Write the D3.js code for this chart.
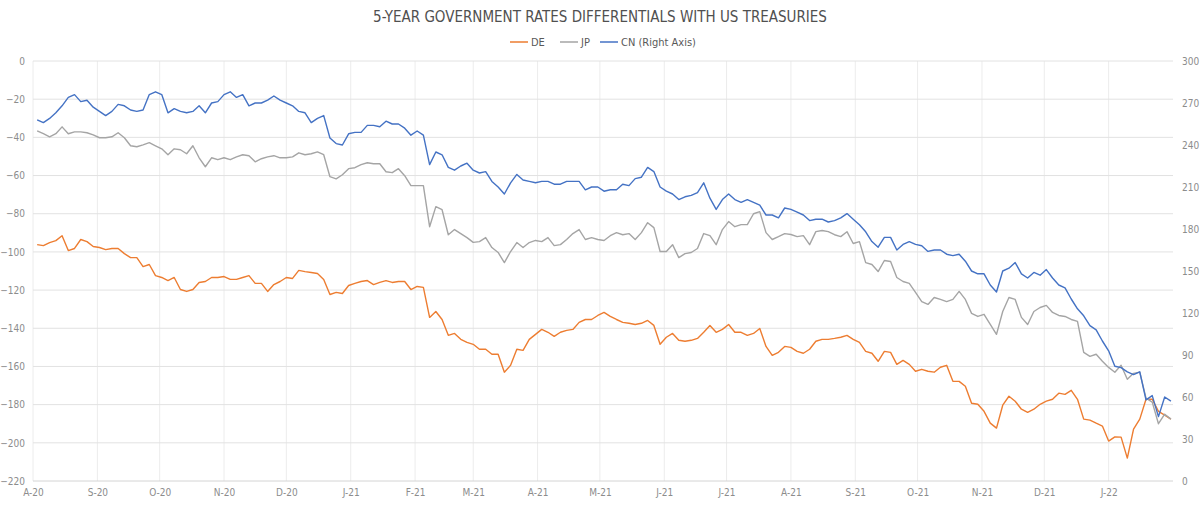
<!DOCTYPE html>
<html lang="en">
<head>
  <meta charset="UTF-8">
  <title>5-Year Government Rates Differentials</title>
  <script src="https://d3js.org/d3.v7.min.js"></script>
  <style>
    body { margin: 0; background: #fff; }
    .chart text { font-family: "DejaVu Sans Condensed", "Liberation Sans Narrow", Roboto, sans-serif; }
    .tick text { fill: #8c8c8c; font-size: 10px; }
  </style>
</head>
<body>
<svg id="chart" class="chart" width="1200" height="505"></svg>
<script>
  // sampled every 3 days from Aug 3, 2020 to Jan 31, 2022
  const dates = d3.timeDay.range(new Date(2020, 7, 3), new Date(2022, 1, 1), 3);

  // DE - US 5y (bp, left axis)
  const de = [
    -96.2, -96.7, -95.1, -94.1, -91.5, -99.3, -98.2, -93.5, -94.6, -97.2, -97.7, -98.8, -98.2, -98.2, -100.9, -103, -103, -107.7, -106.6, -112.4,
    -113.4, -115, -113.4, -119.7, -120.7, -119.7, -116, -115.5, -113.4, -113.4, -112.9, -114.4, -114.4, -113.4, -112.4, -116.5, -116.5, -120.7, -117.1, -115.5,
    -113.4, -113.9, -109.7, -110.3, -110.8, -111.3, -114.4, -122.3, -121.2, -121.8, -117.6, -116.5, -115.5, -115, -117.1, -116, -115, -116, -115.5, -115.5,
    -119.7, -118.1, -118.6, -134.3, -131.2, -135.4, -143.7, -142.7, -145.8, -147.4, -148.4, -151, -151, -153.6, -153.6, -163, -159.4, -151, -151.6, -145.8,
    -143.2, -140.6, -142.1, -144.2, -142.1, -141.1, -140.6, -136.9, -135.4, -135.4, -133.3, -131.7, -133.8, -135.4, -136.9, -137.4, -138, -137.4, -135.9, -138.5,
    -148.4, -144.7, -142.7, -146.3, -146.8, -146.3, -145.3, -142.1, -138.5, -142.1, -140.6, -138, -142.1, -142.1, -143.7, -142.7, -140.1, -149.5, -154.2, -152.6,
    -149.5, -150, -152.1, -153.1, -151, -146.8, -145.8, -145.8, -145.3, -144.7, -143.7, -145.8, -147.4, -152.1, -153.1, -157.3, -152.1, -152.6, -158.9, -156.8,
    -158.9, -162.5, -161.5, -162.5, -163, -160.4, -159.4, -167.8, -167.8, -170.4, -179.3, -179.8, -183.5, -189.7, -192.3, -180.3, -175.6, -178.2, -182.4, -184,
    -182.4, -179.8, -178.2, -177.2, -174, -174.6, -172.5, -177.2, -187.6, -188.1, -189.7, -191.2, -199.1, -196.9, -197, -208, -192.8, -187.6, -177.2, -177.2,
    -183.5, -185.5, -187.6
  ];

  // JP - US 5y (bp, left axis)
  const jp = [
    -36.6, -38.1, -39.7, -38.1, -34.5, -38.1, -37.1, -37.1, -37.6, -38.7, -40.2, -40.2, -39.7, -37.6, -40.2, -44.4, -44.9, -43.9, -42.8, -44.4,
    -46, -49.1, -46, -46.5, -48.6, -44.4, -50.7, -55.4, -50.7, -51.7, -50.7, -51.7, -50.2, -49.1, -49.6, -52.8, -51.2, -50.2, -49.6, -50.7,
    -50.7, -50.2, -48.1, -49.1, -48.6, -47.6, -49.1, -60.6, -61.7, -59.6, -56.4, -55.9, -54.3, -53.3, -53.8, -53.8, -58, -58.5, -56.4, -60.1,
    -65.3, -65.3, -65.3, -86.8, -76.3, -77.9, -91, -88.3, -90.4, -92.5, -95, -94.6, -92.5, -97.7, -100.3, -105.6, -99.8, -95.1, -97.7, -95.1,
    -94, -94.6, -92.5, -96.7, -96.2, -93.5, -90.4, -88.3, -93.5, -92.5, -93.5, -94, -91.5, -89.9, -91, -90.4, -93.5, -89.9, -84.7, -87.3,
    -99.8, -99.8, -96.2, -103, -100.9, -100.3, -98.2, -90.4, -91.5, -96.2, -88.3, -84.1, -86.8, -85.7, -85.7, -80, -78.9, -89.9, -93.5, -92,
    -90.4, -90.9, -92, -91.5, -96.2, -89.4, -88.8, -89.4, -91, -92, -89.4, -95.6, -94.6, -105.6, -106.6, -110.3, -104.5, -105, -113.4, -115.5,
    -116.5, -121.2, -126, -127.5, -123.9, -124.9, -126, -124.9, -120.7, -124.9, -132.2, -133.8, -132.7, -138, -143.2, -131.2, -123.9, -124.9, -134.3, -138,
    -131.2, -129.1, -128, -131.7, -133.3, -133.8, -135.4, -136.4, -152.6, -154.7, -153.6, -157.3, -160.5, -163, -159.4, -166.7, -163.6, -163, -176.6, -178.7,
    -190, -185, -187.6
  ];

  // CN - US 5y (bp, right axis)
  const cn = [
    258, 256, 259, 263, 268, 274, 276, 271, 272, 267, 264, 261, 264, 269, 268, 265, 264, 265, 276, 278,
    276, 263, 266, 264, 263, 264, 268, 263, 270, 271, 276, 278, 274, 276, 268, 270, 270, 272, 275, 272,
    270, 268, 264, 263, 256, 259, 261, 245, 241, 240, 248, 249, 249, 254, 254, 253, 257, 255, 255, 252,
    247, 250, 247, 226, 235, 233, 224, 222, 225, 227, 222, 220, 221, 214, 210, 205, 213, 219, 215, 214,
    213, 214, 214, 212, 212, 214, 214, 214, 208, 210, 210, 207, 208, 208, 212, 211, 216, 217, 224, 221,
    210, 207, 205, 201, 203, 204, 206, 213, 202, 194, 201, 205, 201, 199, 201, 199, 197, 190, 190, 188,
    195, 194, 192, 190, 186, 187, 187, 185, 186, 188, 191, 187, 183, 178, 171, 167, 174, 174, 165, 169,
    171, 169, 168, 164, 165, 165, 162, 161, 162, 157, 150, 148, 148, 140, 135, 150, 152, 156, 148, 145,
    149, 147, 151, 145, 140, 138, 130, 123, 118, 111, 108, 100, 93, 82, 81, 78, 76, 78, 58, 61,
    46, 60, 57
  ];

  const yLeftTicks = d3.range(-220, 1, 20);
  const yRightTicks = d3.range(0, 301, 30);
  const monthTicks = d3.timeMonth.range(new Date(2020, 7, 1), new Date(2022, 1, 1));

  const series = [
    { name: "DE", values: de, color: "#ED7D31", axis: "left" },
    { name: "JP", values: jp, color: "#A5A5A5", axis: "left" },
    { name: "CN (Right Axis)", values: cn, color: "#4472C4", axis: "right" }
  ];

  const margin = { top: 61, right: 27, bottom: 24, left: 33 };
  const width = 1200, height = 505;

  const x = d3.scaleTime()
    .domain([new Date(2020, 7, 1), new Date(2022, 1, 1)])
    .range([margin.left, width - margin.right]);
  const yLeft = d3.scaleLinear().domain([-220, 0]).range([height - margin.bottom, margin.top]);
  const yRight = d3.scaleLinear().domain([0, 300]).range([height - margin.bottom, margin.top]);

  const svg = d3.select("#chart");

  // vertical grid
  svg.append("g")
    .selectAll("line")
    .data(monthTicks)
    .join("line")
    .attr("x1", d => x(d)).attr("x2", d => x(d))
    .attr("y1", margin.top).attr("y2", height - margin.bottom)
    .attr("stroke", "#ececec");

  // horizontal grid (left axis)
  svg.append("g")
    .selectAll("line")
    .data(yLeftTicks)
    .join("line")
    .attr("x1", margin.left).attr("x2", width - margin.right)
    .attr("y1", d => yLeft(d)).attr("y2", d => yLeft(d))
    .attr("stroke", d => d === -220 ? "#d4d4d4" : "#e2e2e2");

  // axes
  const fmtMonth = d => d3.timeFormat("%b")(d)[0] + "-" + d3.timeFormat("%y")(d);

  svg.append("g")
    .attr("transform", `translate(0,${height - margin.bottom})`)
    .call(d3.axisBottom(x).tickValues(monthTicks).tickFormat(fmtMonth).tickSize(0).tickPadding(8))
    .call(g => g.select(".domain").remove());

  svg.append("g")
    .attr("transform", `translate(${margin.left},0)`)
    .call(d3.axisLeft(yLeft).tickValues(yLeftTicks).tickSize(0).tickPadding(8))
    .call(g => g.select(".domain").remove());

  svg.append("g")
    .attr("transform", `translate(${width - margin.right},0)`)
    .call(d3.axisRight(yRight).tickValues(yRightTicks).tickSize(0).tickPadding(9))
    .call(g => g.select(".domain").remove());

  // lines
  series.forEach(s => {
    const y = s.axis === "left" ? yLeft : yRight;
    const line = d3.line()
      .x((d, i) => x(dates[i]))
      .y(d => y(d));
    svg.append("path")
      .datum(s.values)
      .attr("fill", "none")
      .attr("stroke", s.color)
      .attr("stroke-width", 1.4)
      .attr("stroke-linejoin", "round")
      .attr("d", line);
  });

  // title
  svg.append("text")
    .attr("x", width / 2).attr("y", 22)
    .attr("text-anchor", "middle")
    .attr("fill", "#505050")
    .style("font-size", "15px")
    .text("5-YEAR GOVERNMENT RATES DIFFERENTIALS WITH US TREASURIES");

  // legend
  const legendX = [510, 560, 600];
  const legend = svg.append("g");
  series.forEach((s, i) => {
    const g = legend.append("g").attr("transform", `translate(${legendX[i]},42)`);
    g.append("line").attr("x1", 0).attr("x2", 18).attr("stroke", s.color).attr("stroke-width", 1.5);
    g.append("text").attr("x", 21).attr("y", 4)
      .attr("fill", "#595959").style("font-size", "11px").text(s.name);
  });
</script>
</body>
</html>
